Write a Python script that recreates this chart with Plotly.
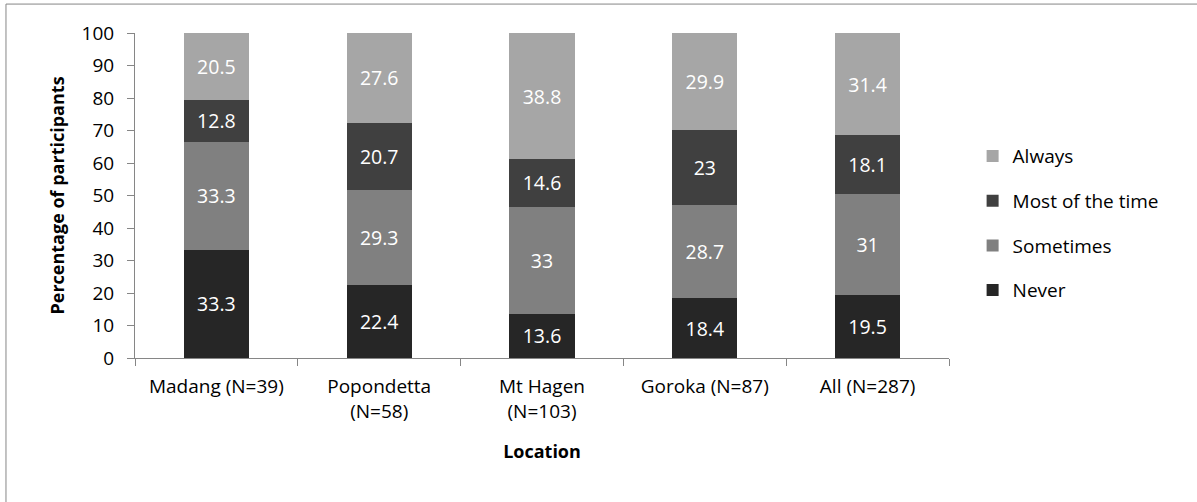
import plotly.graph_objects as go

categories = ["Madang (N=39)", "Popondetta<br>(N=58)", "Mt Hagen<br>(N=103)", "Goroka (N=87)", "All (N=287)"]
never = [33.3, 22.4, 13.6, 18.4, 19.5]
sometimes = [33.3, 29.3, 33, 28.7, 31]
most_of_time = [12.8, 20.7, 14.6, 23, 18.1]
always = [20.5, 27.6, 38.8, 29.9, 31.4]

series = [
    ("Never", never, "#262626", 4),
    ("Sometimes", sometimes, "#808080", 3),
    ("Most of the time", most_of_time, "#404040", 2),
    ("Always", always, "#A6A6A6", 1),
]

FONT = "'Open Sans', Lato, sans-serif"

fig = go.Figure()
for name, vals, col, rank in series:
    fig.add_trace(go.Bar(
        x=categories, y=vals, name=name, marker_color=col, marker_line_width=0,
        text=[f"{v:g}" for v in vals], textposition="inside", insidetextanchor="middle",
        textfont=dict(color="white", size=19.5, family=FONT), legendgroup=name, legendrank=rank,
        width=0.4, hoverinfo="skip",
    ))

fig.update_layout(
    barmode="stack",
    width=1197, height=502,
    margin=dict(l=135, r=248, t=33, b=144),
    paper_bgcolor="white", plot_bgcolor="white",
    font=dict(family=FONT, size=19, color="black"),
    uniformtext=dict(minsize=14, mode="show"),
    legend=dict(traceorder="grouped", tracegroupgap=17, x=1.029, y=0.415, yanchor="middle",
                xanchor="left", font=dict(size=19), itemwidth=30),
    showlegend=True,
)
fig.update_yaxes(range=[0, 100], dtick=10, showline=True, linecolor="#868686", linewidth=1,
                 ticks="outside", ticklen=7, tickcolor="#868686", showgrid=False, zeroline=False,
                 ticklabelstandoff=9,
                 title=dict(text="<b>Percentage of participants</b>", font=dict(size=18), standoff=12))
fig.update_xaxes(showline=True, linecolor="#868686", linewidth=1, ticks="outside", ticklen=7,
                 tickcolor="#868686", tickson="boundaries", showgrid=False,
                 ticklabelstandoff=11,
                 title=dict(text="<b>Location</b>", font=dict(size=18), standoff=22))

fig.add_shape(type="rect", xref="paper", yref="paper", x0=-0.1585, x1=1.32, y0=-0.46, y1=1.089,
              line=dict(color="#868686", width=1), fillcolor="rgba(0,0,0,0)", layer="below")

fig.write_html("out.html", config={"displayModeBar": False},
               post_script="document.body.style.margin='0';")
